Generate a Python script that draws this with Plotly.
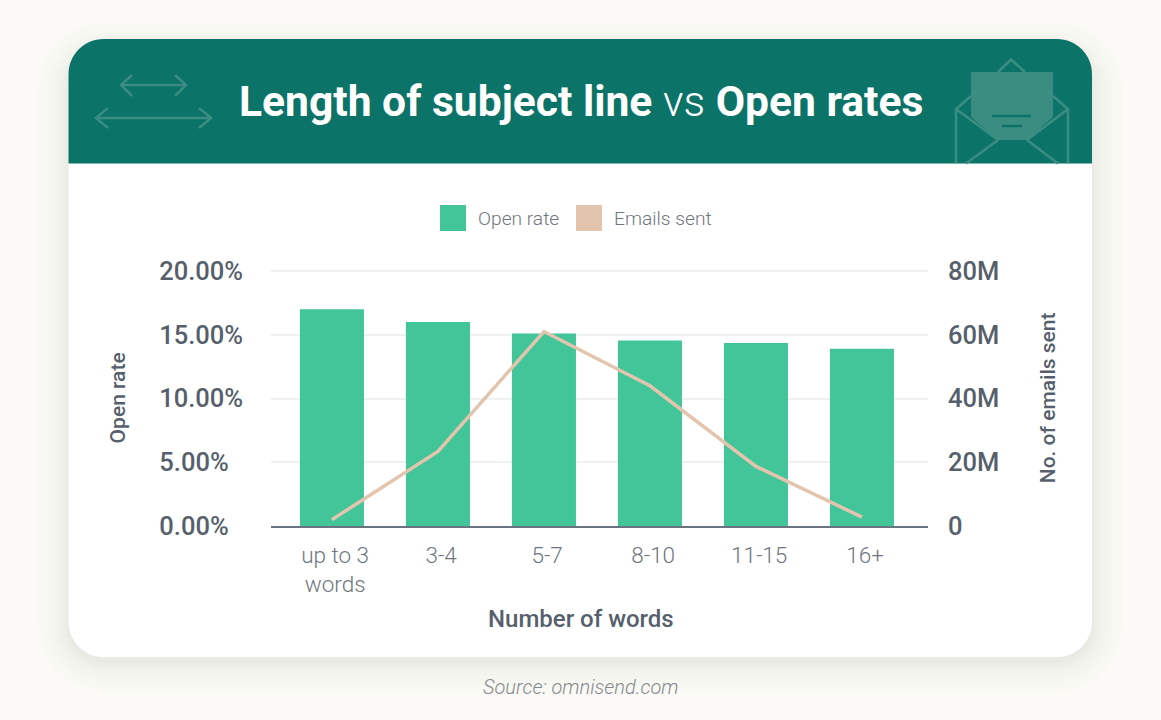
# 件名の長さと開封率のグラフ
import plotly.graph_objects as go

W = 1161
H = 720

categories = ['up to 3<br>words', '3-4', '5-7', '8-10', '11-15', '16+']
open_rate = [17.0, 16.0, 15.1, 14.55, 14.35, 13.9]
emails_sent = [2.0, 23.4, 61.0, 44.0, 18.7, 2.8]

rate_ticks = [0, 5, 10, 15, 20]
rate_labels = ['0.00%\u2007', '5.00%\u2007', '10.00%', '15.00%', '20.00%']
email_ticks = [0, 20, 40, 60, 80]
email_labels = ['0', '20M', '40M', '60M', '80M']

header_color = '#0b7367'
deco_color = '#3b8d82'
bar_color = '#43c59a'
line_color = '#e3c5ae'
text_color = '#565f6b'
light_text = '#6f7680'
bg_color = '#fbfaf6'


def px(x):
    return x / W


def py(y):
    return 1 - y / H


# ピクセル指定のパスを paper 座標に変換
def path(points, close=False):
    s = 'M ' + ' L '.join(f'{px(x):.5f},{py(y):.5f}' for x, y in points)
    return s + (' Z' if close else '')


def corner(x0, y0, x1, y1, x2, y2):
    # 角丸：(x0,y0) から角 (x1,y1) を回って (x2,y2) まで
    k = 0.55
    c1 = (x0 + (x1 - x0) * k, y0 + (y1 - y0) * k)
    c2 = (x2 + (x1 - x2) * k, y2 + (y1 - y2) * k)
    return f' C {px(c1[0])},{py(c1[1])} {px(c2[0])},{py(c2[1])} {px(x2)},{py(y2)}'


def card(x0, y0, x1, y1, r, bottom=0):
    s = f'M {px(x0)},{py(y1 - bottom)}'
    if bottom:
        s += corner(x0, y1 - bottom, x0, y1, x0 + bottom, y1)
        s += f' L {px(x1 - bottom)},{py(y1)}'
        s += corner(x1 - bottom, y1, x1, y1, x1, y1 - bottom)
    else:
        s += f' L {px(x1)},{py(y1)}'
    s += f' L {px(x1)},{py(y0 + r)}'
    s += corner(x1, y0 + r, x1, y0, x1 - r, y0)
    s += f' L {px(x0 + r)},{py(y0)}'
    s += corner(x0 + r, y0, x0, y0, x0, y0 + r)
    return s + ' Z'


shapes = []
# カードの影
for grow, alpha in [(30, 0.006), (25, 0.008), (20, 0.010), (15, 0.012), (10, 0.014), (6, 0.016), (2, 0.02)]:
    shapes.append(dict(type='path', xref='paper', yref='paper', layer='below', line_width=0,
                       fillcolor=f'rgba(60,70,60,{alpha})',
                       path=card(68.5 - grow, 39 - grow + 14, 1092 + grow, 657 + grow + 4, 35 + grow, 35 + grow)))
shapes.append(dict(type='path', xref='paper', yref='paper', layer='below', line_width=0,
                   fillcolor='white', path=card(68.5, 39, 1092, 657, 35, 35)))
shapes.append(dict(type='path', xref='paper', yref='paper', layer='below', line_width=0,
                   fillcolor=header_color, path=card(68.5, 39, 1092, 163.5, 35)))

# ヘッダーの飾り
deco_lines = [
    [(121, 85), (186, 85)], [(132, 75), (121, 85), (132, 96)], [(175, 75), (186, 85), (175, 96)],
    [(96, 118), (211, 118)], [(108, 108), (96, 118), (108, 128)], [(199, 108), (211, 118), (199, 128)],
    [(956, 163.5), (956, 109), (971, 96)], [(1068, 163.5), (1068, 109), (1053, 96)],
    [(998, 72), (1011, 59.5), (1025, 72)],
    [(956, 109), (998, 140)], [(1068, 109), (1027, 140)],
    [(966, 163.5), (998, 140)], [(1058, 163.5), (1027, 140)],
]
for pts in deco_lines:
    shapes.append(dict(type='path', xref='paper', yref='paper', layer='below',
                       line=dict(color=deco_color, width=2.5), path=path(pts)))
shapes.append(dict(type='path', xref='paper', yref='paper', layer='below', line_width=0,
                   fillcolor=deco_color,
                   path=path([(971, 72), (1053, 72), (1053, 117), (1027, 140), (998, 140), (971, 117)], True)))
for x0, x1, y in [(992, 1031, 116), (1002, 1022, 126)]:
    shapes.append(dict(type='line', xref='paper', yref='paper', layer='below',
                       x0=px(x0), x1=px(x1), y0=py(y), y1=py(y),
                       line=dict(color=header_color, width=2.5)))

# 凡例の色見本
for x0, color in [(440, bar_color), (576, line_color)]:
    shapes.append(dict(type='rect', xref='paper', yref='paper', layer='below', line_width=0,
                       fillcolor=color, x0=px(x0), x1=px(x0 + 26), y0=py(231), y1=py(205)))


def label(text, x, y, font, xanchor='center'):
    return dict(text=text, x=px(x), y=py(y), xref='paper', yref='paper', showarrow=False,
                xanchor=xanchor, yanchor='middle', font=font)


annotations = [
    label('Length of subject line <span style="font-weight:300">vs</span> Open rates', 580.5, 101,
          dict(family='Roboto', size=42.6, color='white', weight=700)),
    label('Open rate', 475.5, 218, dict(family='Roboto', size=19.2, color=light_text, weight=300), 'left'),
    label('Emails sent', 611.5, 218, dict(family='Roboto', size=19.2, color=light_text, weight=300), 'left'),
    label('Number of words', 580.5, 618.5, dict(family='Roboto', size=24, color=text_color, weight=500)),
    label('Source: omnisend.com', 580.5, 687,
          dict(family='Roboto', size=20, color='#85898e', weight=300, style='italic')),
]

fig = go.Figure()
fig.add_trace(go.Bar(
    x=list(range(len(categories))),
    y=open_rate,
    width=0.604,
    name='Open rate',
    marker=dict(color=bar_color, line=dict(width=0)),
))
fig.add_trace(go.Scatter(
    x=list(range(len(categories))),
    y=emails_sent,
    yaxis='y2',
    mode='lines',
    name='Emails sent',
    line=dict(color=line_color, width=3.5),
))

fig.update_layout(
    template='none',
    width=W,
    height=H,
    showlegend=False,
    paper_bgcolor=bg_color,
    plot_bgcolor='rgba(0,0,0,0)',
    margin=dict(l=0, r=0, t=0, b=0),
    shapes=shapes,
    annotations=annotations,
    xaxis=dict(
        domain=[px(271), px(928)],
        range=[-0.575, 5.623],
        # 目盛り文字は棒の中心より少し右にある
        tickvals=[i + 0.03 for i in range(len(categories))],
        ticktext=categories,
        tickfont=dict(family='Roboto', size=22.5, color=light_text, weight=300),
        ticks='',
        ticklabelstandoff=8,
        showgrid=False,
        showline=True,
        linecolor='#6b7280',
        linewidth=1.5,
        zeroline=False,
    ),
    yaxis=dict(
        # 上端の目盛り線が消えないように範囲を少し広げる
        domain=[py(526), py(269.72)],
        range=[0, 20.1],
        tickvals=rate_ticks,
        ticktext=rate_labels,
        tickfont=dict(family='Roboto', size=25.5, color=text_color, weight=500),
        ticks='',
        ticklabelstandoff=27,
        showgrid=True,
        gridcolor='#eff0f0',
        gridwidth=1.5,
        zeroline=False,
        title=dict(text='Open rate', standoff=27,
                   font=dict(family='Roboto', size=21, color=text_color, weight=500)),
    ),
    yaxis2=dict(
        overlaying='y',
        side='right',
        range=[0, 80.4],
        tickvals=email_ticks,
        ticktext=email_labels,
        tickfont=dict(family='Roboto', size=25.5, color=text_color, weight=500),
        ticks='',
        ticklabelstandoff=19,
        showgrid=False,
        zeroline=False,
        title=dict(text='No. of emails sent', standoff=42,
                   font=dict(family='Roboto', size=21, color=text_color, weight=500)),
    ),
)

fig.write_html('out.html', config=dict(displayModeBar=False),
               post_script="document.body.style.margin='0';")
